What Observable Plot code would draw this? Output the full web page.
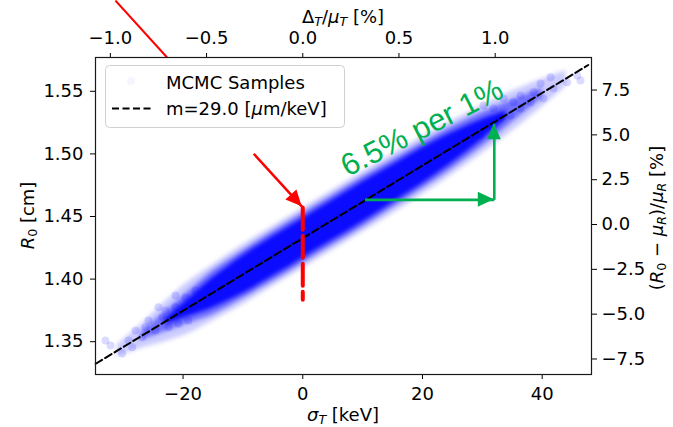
<!DOCTYPE html>
<html><head><meta charset="utf-8">
<script src="https://cdn.jsdelivr.net/npm/d3@7"></script>
<script src="https://cdn.jsdelivr.net/npm/@observablehq/plot@0.6"></script>
<style>body{margin:0;background:#fff}#chart{width:673px;height:427px}</style>
</head><body><div id="chart"></div>
<script>
// ---- axes / ticks ----
const bottomTicks = [-20, 0, 20, 40];
const leftTicks = [1.35, 1.40, 1.45, 1.50, 1.55];
const topTicksPct = [-1.0, -0.5, 0.0, 0.5, 1.0];
const rightTicksPct = [-7.5, -5.0, -2.5, 0.0, 2.5, 5.0, 7.5];
const muT = 3215;            // keV  (Δ_T/μ_T axis)
const rightZero = 1.4436;    // R at 0 % on right axis
const rightPerPct = 0.01432; // cm per 1 %
const xDomain = [-34.63, 48.24];
const yDomain = [1.3238, 1.577];

// ---- fit line m = 29.0 µm/keV ----
const fitX = [-34.6, 47.7];
const fitY = [1.3324, 1.5710];

// ---- MCMC sample cloud (density envelopes) ----
const outerX  = [-31, -27, -23, -19, -15, -10, -5, 0, 5, 10, 15, 20, 25, 30, 35, 40, 44];
const outerLo = [1.3380, 1.3448, 1.3500, 1.3568, 1.3668, 1.3797, 1.3942, 1.4087, 1.4232, 1.4377, 1.4522, 1.4675, 1.4836, 1.5005, 1.5182, 1.5375, 1.5539];
const outerHi = [1.3476, 1.3640, 1.3820, 1.3984, 1.4116, 1.4277, 1.4422, 1.4567, 1.4712, 1.4857, 1.5002, 1.5139, 1.5268, 1.5389, 1.5502, 1.5599, 1.5667];
const midX  = [-27, -23, -19, -15, -10, -5, 0, 5, 10, 15, 20, 25, 30, 35, 40];
const midLo = [1.3512, 1.3580, 1.3648, 1.3716, 1.3845, 1.3982, 1.4127, 1.4272, 1.4417, 1.4570, 1.4723, 1.4884, 1.5061, 1.5254, 1.5447];
const midHi = [1.3576, 1.3740, 1.3904, 1.4068, 1.4229, 1.4382, 1.4527, 1.4672, 1.4817, 1.4954, 1.5091, 1.5220, 1.5333, 1.5430, 1.5527];
const coreX  = [-23, -19, -15, -10, -5, 0, 5, 10, 15, 20, 25, 30, 34];
const coreLo = [1.3636, 1.3704, 1.3772, 1.3885, 1.4022, 1.4167, 1.4312, 1.4457, 1.4610, 1.4763, 1.4932, 1.5117, 1.5281];
const coreHi = [1.3684, 1.3848, 1.4012, 1.4189, 1.4342, 1.4487, 1.4632, 1.4777, 1.4914, 1.5051, 1.5172, 1.5277, 1.5345];
// sparse samples in the tails
const tailX = [-32.97, -32.13, -30.18, -29.12, -28.50, -27.95, -26.83, -26.28, -25.78, -24.61, -24.11, -23.49, -22.94, -22.44, -21.27, -21.27, -20.77, -19.60, -19.10, -17.93,
               46.40, 45.85, 44.18, 41.40, 41.90, 39.72, 40.22, 38.55, 38.05, 36.38, 36.38, 35.21, 34.70, 33.53, 33.03, 31.86, 31.36, 30.19, 29.69];
const tailY = [1.3510, 1.3470, 1.3406, 1.3510, 1.3456, 1.3589, 1.3536, 1.3616, 1.3669, 1.3589, 1.3776, 1.3696, 1.3749, 1.3616, 1.3869, 1.3776, 1.3645, 1.3855, 1.3669, 1.3909,
               1.5586, 1.5626, 1.5573, 1.5613, 1.5522, 1.5562, 1.5443, 1.5493, 1.5413, 1.5466, 1.5363, 1.5413, 1.5307, 1.5443, 1.5283, 1.5363, 1.5227, 1.5387, 1.5147];

// ---- annotations ----
const redDashX = [0, 0], redDashY = [1.4569, 1.3835];
const redArrowX = [-8.19, -0.1], redArrowY = [1.5001, 1.4577];
const redOffX = [-31.3, -22.66], redOffY = [1.6225, 1.577];
const greenHX = [10.4, 32.0], greenHY = [1.4633, 1.4633];
const greenVX = [32.0, 32.0], greenVY = [1.4633, 1.524];
const greenLabel = "6.5% per 1%", greenLabelX = 19.92, greenLabelY = 1.5207;

const band = (X, L, H) => X.map((x, i) => ({x, lo: L[i], hi: H[i]}));
const pts = (X, Y) => X.map((x, i) => ({x, y: Y[i]}));
const seg = (X, Y) => [{x1: X[0], y1: Y[0], x2: X[1], y2: Y[1]}];
const minus = s => s.replace("-", "\u2212");

const blue = "#0000ff", red = "#ff0000", green = "#00b050";

const plot = Plot.plot({
  width: 673, height: 427,
  marginLeft: 95, marginRight: 82, marginTop: 57, marginBottom: 53,
  style: {fontFamily: "DejaVu Sans", fontSize: "18px", color: "#000", background: "#fff"},
  x: {domain: xDomain},
  y: {domain: yDomain},
  marks: [
    Plot.areaY(band(outerX, outerLo, outerHi), {x: "x", y1: "lo", y2: "hi", fill: blue, fillOpacity: 0.2, curve: "catmull-rom", clip: true}),
    Plot.areaY(band(midX, midLo, midHi), {x: "x", y1: "lo", y2: "hi", fill: blue, fillOpacity: 0.45, curve: "catmull-rom", clip: true}),
    Plot.areaY(band(coreX, coreLo, coreHi), {x: "x", y1: "lo", y2: "hi", fill: blue, fillOpacity: 0.9, curve: "catmull-rom", clip: true}),
    Plot.dot(pts(tailX, tailY), {x: "x", y: "y", r: 4, fill: blue, fillOpacity: 0.14, clip: true}),
    Plot.line(pts(fitX, fitY), {x: "x", y: "y", stroke: "#000", strokeWidth: 2, strokeDasharray: "7.5,3.5"}),
    Plot.line(pts(redDashX, redDashY), {x: "x", y: "y", stroke: red, strokeWidth: 4, strokeDasharray: "22,6"}),
    Plot.link(seg(redArrowX, redArrowY), {x1: "x1", y1: "y1", x2: "x2", y2: "y2", stroke: red, strokeWidth: 2.5}),
    Plot.link(seg(redOffX, redOffY), {x1: "x1", y1: "y1", x2: "x2", y2: "y2", stroke: red, strokeWidth: 2}),
    Plot.link(seg(greenHX, greenHY), {x1: "x1", y1: "y1", x2: "x2", y2: "y2", stroke: green, strokeWidth: 2.6}),
    Plot.link(seg(greenVX, greenVY), {x1: "x1", y1: "y1", x2: "x2", y2: "y2", stroke: green, strokeWidth: 2.6}),
    Plot.text([greenLabel], {x: () => greenLabelX, y: () => greenLabelY, text: d => d, rotate: -27, fontSize: 31, fontFamily: "Liberation Sans", fill: green, textAnchor: "middle", lineAnchor: "middle"}),
    Plot.axisX({anchor: "bottom", ticks: bottomTicks, tickSize: 5, tickPadding: 8, label: null, fontSize: 18, tickFormat: d => minus(String(d))}),
    Plot.axisX({anchor: "top", ticks: topTicksPct.map(p => p / 100 * muT), tickSize: 5, tickPadding: 8.5, label: null, fontSize: 18, tickFormat: d => minus((d / muT * 100).toFixed(1))}),
    Plot.axisY({anchor: "left", ticks: leftTicks, tickSize: 5, tickPadding: 7, label: null, fontSize: 18, tickFormat: d => d.toFixed(2)}),
    Plot.axisY({anchor: "right", ticks: rightTicksPct.map(p => rightZero + p * rightPerPct), tickSize: 5, tickPadding: 5, label: null, fontSize: 18,
      tickFormat: d => { const v = Math.round((d - rightZero) / rightPerPct * 10) / 10; return minus((v === 0 ? 0 : v).toFixed(1)); }}),
    Plot.frame({stroke: "#1a1a1a", strokeWidth: 1.2})
  ]
});
document.getElementById("chart").appendChild(plot);

const svg = d3.select(plot);
const defs = svg.insert("defs", ":first-child");
defs.append("filter").attr("id", "soft").attr("x", "-5%").attr("y", "-5%").attr("width", "110%").attr("height", "110%")
  .append("feGaussianBlur").attr("stdDeviation", 2.2);
svg.selectAll('g[aria-label="area"]').attr("filter", "url(#soft)");

const sxs = plot.scale("x"), sys = plot.scale("y");
const sx = sxs.apply ? v => sxs.apply(v) : d3.scaleLinear(xDomain, [95, 591]);
const sy = sys.apply ? v => sys.apply(v) : d3.scaleLinear(yDomain, [374, 57]);

function head(X, Y, len, hw, color) {
  const tx = sx(X[1]), ty = sy(Y[1]), fx = sx(X[0]), fy = sy(Y[0]);
  const L = Math.hypot(tx - fx, ty - fy), dx = (tx - fx) / L, dy = (ty - fy) / L;
  const bx = tx - dx * len, by = ty - dy * len, px = -dy, py = dx;
  svg.append("path").attr("fill", color)
    .attr("d", `M${tx},${ty}L${bx + px * hw},${by + py * hw}L${bx - px * hw},${by - py * hw}Z`);
}
head(redArrowX, redArrowY, 16, 7.5, red);
head(greenHX, greenHY, 16, 7.5, green);
head(greenVX, greenVY, 16, 7, green);

function rich(g, parts, fs, anchor) {
  const t = g.append("text").attr("font-family", "DejaVu Sans").attr("font-size", fs).attr("fill", "#000")
    .attr("text-anchor", anchor || "start");
  let shift = 0;
  for (const p of parts) {
    const ts = t.append("tspan").text(p.t);
    if (p.it) ts.attr("font-style", "italic");
    const target = p.sub ? 0.16 * fs : 0;
    if (target !== shift) { ts.attr("dy", target - shift); shift = target; }
    if (p.sub) ts.attr("font-size", fs * 0.7);
  }
  return t;
}
// axis labels
rich(svg, [{t: "σ", it: 1}, {t: "T", it: 1, sub: 1}, {t: " [keV]"}], 18, "middle").attr("x", 343).attr("y", 421);
rich(svg, [{t: "Δ"}, {t: "T", it: 1, sub: 1}, {t: "/"}, {t: "μ", it: 1}, {t: "T", it: 1, sub: 1}, {t: " [%]"}], 18, "middle").attr("x", 343).attr("y", 23);
rich(svg, [{t: "R", it: 1}, {t: "0", sub: 1}, {t: " [cm]"}], 18, "middle").attr("transform", "translate(34,215.5) rotate(-90)");
rich(svg, [{t: "("}, {t: "R", it: 1}, {t: "0", sub: 1}, {t: " − "}, {t: "μ", it: 1}, {t: "R", it: 1, sub: 1}, {t: ")/"}, {t: "μ", it: 1}, {t: "R", it: 1, sub: 1}, {t: " [%]"}], 18, "middle")
  .attr("transform", "translate(663,218) rotate(-90)");

// legend
const lg = svg.append("g");
lg.append("rect").attr("x", 105.5).attr("y", 65.5).attr("width", 239).attr("height", 62).attr("rx", 4)
  .attr("fill", "#fff").attr("fill-opacity", 0.8).attr("stroke", "#d0d0d0");
lg.append("circle").attr("cx", 131).attr("cy", 81).attr("r", 4).attr("fill", blue).attr("fill-opacity", 0.04);
lg.append("line").attr("x1", 112).attr("x2", 152).attr("y1", 108.5).attr("y2", 108.5)
  .attr("stroke", "#000").attr("stroke-width", 2).attr("stroke-dasharray", "7,3.5");
rich(lg, [{t: "MCMC Samples"}], 18, "start").attr("x", 166).attr("y", 89);
rich(lg, [{t: "m=29.0 ["}, {t: "μ", it: 1}, {t: "m/keV]"}], 18, "start").attr("x", 166).attr("y", 115);
</script></body></html>
